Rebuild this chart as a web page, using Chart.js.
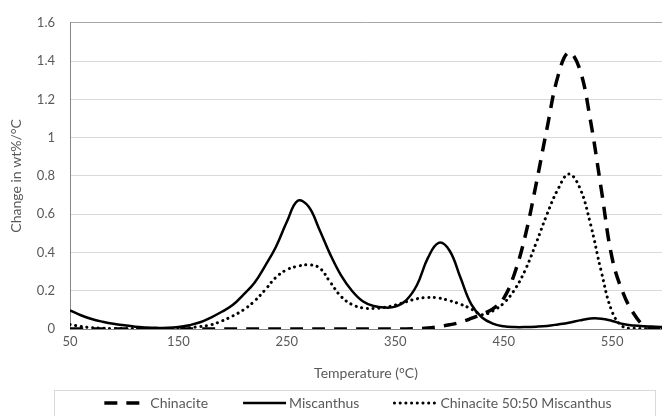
<!DOCTYPE html>
<html>
<head>
<meta charset="utf-8">
<script src="https://cdn.jsdelivr.net/npm/chart.js@4.4.1/dist/chart.umd.min.js"></script>
<style>
  html, body { margin: 0; padding: 0; background: #fff; }
  #wrap { width: 662px; height: 416px; }
</style>
</head>
<body>
<div id="wrap"><canvas id="dtgChart" width="662" height="416"></canvas></div>
<script>
// temperature (°C) and DTG rate (wt%/°C)
const temps = [
    50, 60, 70, 80, 90, 100, 110, 120, 130, 140,
    150, 160, 170, 180, 190, 200, 210, 220, 230, 240,
    250, 260, 270, 280, 290, 300, 310, 320, 330, 340,
    350, 360, 370, 380, 390, 400, 410, 420, 430, 440,
    450, 460, 470, 480, 490, 500, 510, 520, 530, 540,
    550, 560, 570, 580, 590, 600
];
const chinacite = [
    0, 0, 0, 0, 0, 0, 0, 0, 0, 0,
    0, 0, 0, 0, 0, 0, 0, 0, 0, 0,
    0, 0, 0, 0, 0, 0, 0, 0, 0, 0,
    0, 0, 0.002, 0.005, 0.012, 0.022, 0.035, 0.055, 0.078, 0.105,
    0.16, 0.29, 0.49, 0.76, 1.05, 1.32, 1.445, 1.36, 1.09, 0.73,
    0.37, 0.19, 0.08, 0.015, 0, 0
];
const miscanthus = [
    0.097, 0.072, 0.052, 0.038, 0.027, 0.02, 0.012, 0.008, 0.006, 0.006,
    0.01, 0.02, 0.035, 0.06, 0.09, 0.125, 0.18, 0.24, 0.33, 0.43,
    0.56, 0.67, 0.64, 0.52, 0.39, 0.28, 0.2, 0.145, 0.12, 0.112,
    0.117, 0.15, 0.23, 0.37, 0.45, 0.41, 0.27, 0.13, 0.06, 0.028,
    0.014, 0.01, 0.01, 0.012, 0.016, 0.024, 0.033, 0.045, 0.055, 0.054,
    0.042, 0.026, 0.018, 0.014, 0.012, 0.01
];
const blend = [
    0.024, 0.013, 0.007, 0.004, 0.003, 0.003, 0.003, 0.003, 0.003, 0.003,
    0.004, 0.007, 0.013, 0.022, 0.042, 0.068, 0.1, 0.145, 0.205, 0.27,
    0.31, 0.328, 0.335, 0.32, 0.245, 0.17, 0.128, 0.11, 0.107, 0.113,
    0.125, 0.142, 0.158, 0.165, 0.162, 0.148, 0.13, 0.105, 0.075, 0.095,
    0.135, 0.205, 0.31, 0.45, 0.6, 0.73, 0.81, 0.74, 0.55, 0.3,
    0.09, 0.012, 0.004, 0.003, 0.003, 0.003
];
const seriesNames = ['Chinacite', 'Miscanthus', 'Chinacite 50:50 Miscanthus'];
const xTicks = [50, 150, 250, 350, 450, 550];

const toPoints = (vals) => vals.map((v, i) => ({ x: temps[i], y: v }));

const FONT = 'Lato, "Open Sans", sans-serif';
const TEXT = '#595959';

// legend drawn inside a thin grey box under the axis title
const boxedLegend = {
    id: 'boxedLegend',
    afterDraw(chart) {
        const ctx = chart.ctx;
        const cy = 403;
        const sample = 43;
        const gap = 35;
        ctx.save();
        ctx.strokeStyle = '#d9d9d9';
        ctx.lineWidth = 1;
        ctx.strokeRect(54.5, 390.5, 601, 40);

        ctx.font = '14px ' + FONT;
        const widths = chart.data.datasets.map(ds => sample + 3 + ctx.measureText(ds.label).width);
        const total = widths.reduce((a, b) => a + b, 0) + gap * (widths.length - 1);
        let x = 358 - total / 2;

        chart.data.datasets.forEach((ds, i) => {
            ctx.beginPath();
            ctx.setLineDash(ds.borderDash || []);
            ctx.lineCap = ds.borderCapStyle || 'butt';
            ctx.lineWidth = ds.borderWidth;
            ctx.strokeStyle = ds.borderColor;
            ctx.moveTo(x, cy);
            ctx.lineTo(x + sample, cy);
            ctx.stroke();
            ctx.setLineDash([]);
            ctx.fillStyle = TEXT;
            ctx.textBaseline = 'middle';
            ctx.fillText(ds.label, x + sample + 3, cy);
            x += widths[i] + gap;
        });
        ctx.restore();
    }
};

const ctx = document.getElementById('dtgChart').getContext('2d');
new Chart(ctx, {
    type: 'line',
    data: {
        datasets: [
            {
                label: seriesNames[0],
                data: toPoints(chinacite),
                borderColor: '#000',
                borderWidth: 3.5,
                borderDash: [13, 9],
                pointRadius: 0,
                tension: 0.4,
            },
            {
                label: seriesNames[1],
                data: toPoints(miscanthus),
                borderColor: '#000',
                borderWidth: 2.5,
                pointRadius: 0,
                tension: 0.4,
            },
            {
                label: seriesNames[2],
                data: toPoints(blend),
                borderColor: '#000',
                borderWidth: 3,
                borderDash: [0.1, 5.6],
                borderCapStyle: 'round',
                pointRadius: 0,
                tension: 0.4,
            },
        ],
    },
    options: {
        responsive: false,
        animation: false,
        layout: { padding: { left: 0, right: 0, top: 15, bottom: 34 } },
        plugins: {
            legend: { display: false },
            tooltip: { enabled: false },
        },
        scales: {
            x: {
                type: 'linear',
                min: 50,
                max: 596,
                afterBuildTicks: (scale) => {
                    scale.ticks = xTicks.map(v => ({ value: v }));
                },
                afterFit: (scale) => { scale.height = 53; },
                grid: { display: false, drawTicks: false },
                border: { color: '#868686', width: 1 },
                ticks: { color: TEXT, font: { family: FONT, size: 13 }, padding: 5, maxRotation: 0 },
                title: {
                    display: true,
                    text: 'Temperature (°C)',
                    color: TEXT,
                    font: { family: FONT, size: 14 },
                    padding: { top: 0, bottom: 0 },
                },
            },
            y: {
                min: 0,
                max: 1.6,
                afterFit: (scale) => { scale.width = 70; },
                grid: {
                    drawTicks: false,
                    color: (c) => (c.tick && Math.abs(c.tick.value - 1.6) < 1e-6 ? '#a6a6a6' : '#d9d9d9'),
                },
                border: { color: '#868686', width: 1 },
                ticks: {
                    stepSize: 0.2,
                    color: TEXT,
                    font: { family: FONT, size: 13 },
                    padding: 15,
                    callback: (v) => String(parseFloat(v.toFixed(1))),
                },
                title: {
                    display: true,
                    text: 'Change in wt%/°C',
                    color: TEXT,
                    font: { family: FONT, size: 14 },
                    padding: { top: 8, bottom: 0 },
                },
            },
        },
    },
    plugins: [boxedLegend],
});
</script>
</body>
</html>
